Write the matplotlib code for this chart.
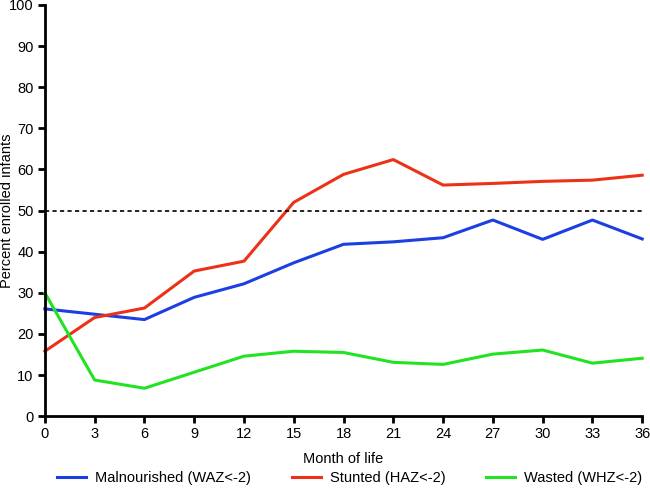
import matplotlib
matplotlib.use("Agg")
from matplotlib import pyplot as plt

months = [0, 3, 6, 9, 12, 15, 18, 21, 24, 27, 30, 33, 36]
malnourished = [26.1, 24.8, 23.5, 28.9, 32.2, 37.3, 41.8, 42.4, 43.4, 47.7, 43.0, 47.7, 43.1]
stunted = [15.8, 24.0, 26.3, 35.3, 37.7, 52.0, 58.8, 62.4, 56.2, 56.6, 57.1, 57.4, 58.6]
wasted = [30.0, 8.8, 6.8, 10.7, 14.6, 15.8, 15.5, 13.1, 12.6, 15.1, 16.1, 12.9, 14.1]
labels = ["Malnourished (WAZ<-2)", "Stunted (HAZ<-2)", "Wasted (WHZ<-2)"]

plt.rcParams['font.family'] = ['Liberation Sans', 'DejaVu Sans']
plt.rcParams['font.size'] = 10.5

fig = plt.figure(figsize=(6.5, 4.92), dpi=100)
ax = fig.add_axes([0.069, 0.154, 0.919, 0.836])

ax.plot(months, malnourished, color='#1b3fe0', lw=2.2, label=labels[0], clip_on=False)
ax.plot(months, stunted, color='#ec3118', lw=2.2, label=labels[1], clip_on=False)
ax.plot(months, wasted, color='#22e322', lw=2.2, label=labels[2], clip_on=False)
ax.axhline(50, color='black', lw=1.2, ls=(0, (2.5, 2)))

ax.set_xlim(0, 36)
ax.set_ylim(0, 100)
ax.set_xticks(months)
ax.set_yticks(range(0, 101, 10))
ax.spines[["top", "right"]].set_visible(False)
ax.spines[["left", "bottom"]].set_linewidth(2)
ax.tick_params(width=2, length=5, direction='out', pad=3)
ax.set_xlabel("Month of life", labelpad=8)
ax.set_ylabel("Percent enrolled infants")
ax.yaxis.set_label_coords(-0.052, 0.5)

ax.legend(loc='center', bbox_to_anchor=(0.51, -0.151), ncol=3, frameon=False,
          handlelength=2.0, columnspacing=2.8, handletextpad=0.6,
          borderaxespad=0, borderpad=0)

fig.savefig("out.png", dpi=100)
